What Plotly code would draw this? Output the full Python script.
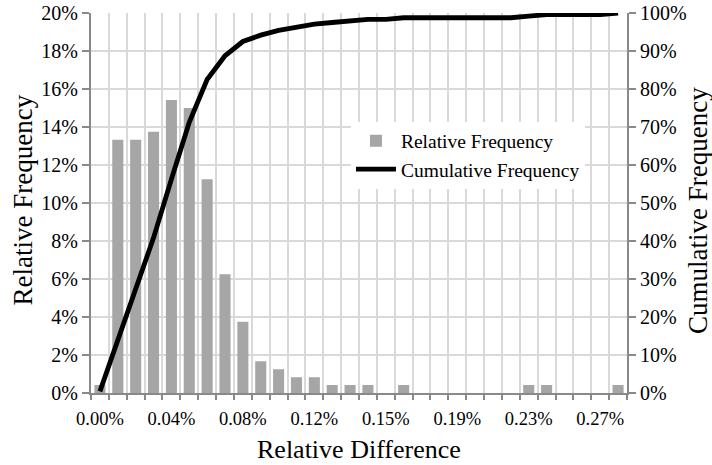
import plotly.graph_objects as go

# ---- data ----
bins = list(range(30))  # histogram bin index (category positions)
rel_freq = [0.42, 13.33, 13.33, 13.75, 15.42, 15.00, 11.25, 6.25, 3.75, 1.67,
            1.25, 0.83, 0.83, 0.42, 0.42, 0.42, 0.00, 0.42, 0.00, 0.00,
            0.00, 0.00, 0.00, 0.00, 0.42, 0.42, 0.00, 0.00, 0.00, 0.42]
cum_freq = [0.42, 13.75, 27.08, 40.83, 56.25, 71.25, 82.50, 88.75, 92.50, 94.17,
            95.42, 96.25, 97.08, 97.50, 97.92, 98.33, 98.33, 98.75, 98.75, 98.75,
            98.75, 98.75, 98.75, 98.75, 99.17, 99.58, 99.58, 99.58, 99.58, 100.00]
tick_bins = [0, 4, 8, 12, 16, 20, 24, 28]
tick_labels = ["0.00%", "0.04%", "0.08%", "0.12%", "0.15%", "0.19%", "0.23%", "0.27%"]

FONT = "Liberation Serif, Times New Roman, serif"
GRID = "#d9d9d9"
AXIS = "#898989"
XTICK_SIZE = 18.5
YTICK_SIZE = 20

fig = go.Figure()
fig.add_trace(go.Bar(
    x=bins, y=rel_freq, name="Relative Frequency",
    marker=dict(color="#a6a6a6", line=dict(width=0)),
    yaxis="y",
))
fig.add_trace(go.Scatter(
    x=bins, y=cum_freq, name="Cumulative Frequency",
    mode="lines", line=dict(color="black", width=4.8),
    yaxis="y2",
))

fig.update_layout(
    width=712, height=465,
    margin=dict(l=91, r=85, t=13, b=72, autoexpand=False),
    paper_bgcolor="white", plot_bgcolor="white",
    font=dict(family=FONT, size=20, color="black"),
    bargap=0.38,
    showlegend=True,
    legend=dict(
        x=0.485, y=0.714, xanchor="left", yanchor="top",
        bgcolor="white", borderwidth=0,
        font=dict(family=FONT, size=19.5, color="black"),
        tracegroupgap=0, itemwidth=40,
    ),
    xaxis=dict(
        range=[-0.5, 29.5], tickmode="array", tickvals=tick_bins, ticktext=tick_labels,
        showgrid=False, ticks="", zeroline=False, automargin=False,
        showline=True, linecolor=AXIS, linewidth=2,
        tickfont=dict(family=FONT, size=XTICK_SIZE, color="black"),
        ticklabelstandoff=8,
        minor=dict(tick0=-0.5, dtick=1, showgrid=True, gridcolor=GRID, gridwidth=2,
                   ticks="outside", ticklen=5, tickcolor=AXIS, tickwidth=1.5),
    ),
    yaxis=dict(
        range=[0, 20], dtick=2, ticksuffix="%", automargin=False,
        showgrid=True, gridcolor=GRID, gridwidth=2, zeroline=False,
        showline=True, linecolor=AXIS, linewidth=2,
        ticks="outside", ticklen=7, tickcolor=AXIS, tickwidth=1.5,
        tickfont=dict(family=FONT, size=YTICK_SIZE, color="black"),
    ),
    yaxis2=dict(
        range=[0, 100], dtick=10, ticksuffix="%", overlaying="y", side="right",
        showgrid=False, zeroline=False, automargin=False,
        showline=True, linecolor=AXIS, linewidth=2,
        ticks="outside", ticklen=7, tickcolor=AXIS, tickwidth=1.5,
        tickfont=dict(family=FONT, size=YTICK_SIZE, color="black"),
    ),
    annotations=[
        dict(text="Relative Difference", xref="paper", yref="paper",
             x=0.5, y=(393 - 450) / 380, xanchor="center", yanchor="middle", showarrow=False,
             font=dict(family=FONT, size=26, color="black")),
        dict(text="Relative Frequency", xref="paper", yref="paper",
             x=(22.5 - 91) / 536, y=(393 - 200) / 380, xanchor="center", yanchor="middle",
             textangle=-90, showarrow=False,
             font=dict(family=FONT, size=27, color="black")),
        dict(text="Cumulative Frequency", xref="paper", yref="paper",
             x=(698 - 91) / 536, y=(393 - 211) / 380, xanchor="center", yanchor="middle",
             textangle=-90, showarrow=False,
             font=dict(family=FONT, size=27, color="black")),
    ],
)

# remove the browser's default 8px page margin so the figure sits at the window origin
fig.write_html(
    "out.html",
    config={"displayModeBar": False},
    post_script="document.body.style.margin='0';document.body.style.overflow='hidden';",
)
